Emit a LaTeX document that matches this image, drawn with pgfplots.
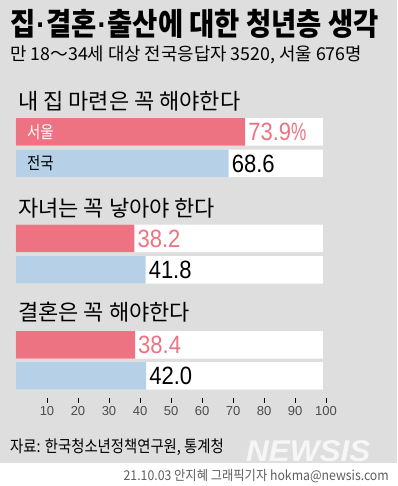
\documentclass[border=0pt]{standalone}
\usepackage{pgfplots}
\pgfplotsset{compat=1.18}
\usepackage{graphicx}
\usepackage{fontspec}
\setmainfont{Liberation Sans}
\newfontfamily\kr{Noto Sans CJK KR}
\newfontfamily\lib{Liberation Sans}
\definecolor{bg}{RGB}{222,222,222}
\definecolor{seoul}{RGB}{238,115,130}
\definecolor{nat}{RGB}{182,209,231}
\definecolor{credit}{RGB}{95,95,95}
\newcommand{\pct}{\scalebox{0.78}[1]{\%}}
\begin{document}
\begin{tikzpicture}[x=1pt,y=1pt]
\fill[bg] (0,23) rectangle (397,486);
\fill[white] (0,0) rectangle (397,23);
\path[use as bounding box] (0,0) rectangle (397,486);
% titles
\node[anchor=west, inner sep=0] at (10,462.5) {\scalebox{0.885}[1]{\kr\bfseries\fontsize{31}{32}\selectfont 집{\lib\bfseries\kern1pt·\kern1pt}결혼{\lib\bfseries\kern1pt·\kern1pt}출산에 대한 청년층 생각}};
\node[anchor=west, inner sep=0] at (10,431) {\kr\fontsize{17.8}{18}\selectfont 만 18{\char"FF5E}34세 대상 전국응답자 3520, 서울 676명};
\node[anchor=west, inner sep=0] at (18,385) {\kr\fontsize{22}{22}\selectfont 내 집 마련은 꼭 해야한다};
\node[anchor=west, inner sep=0] at (18,277.5) {\kr\fontsize{22}{22}\selectfont 자녀는 꼭 낳아야 한다};
\node[anchor=west, inner sep=0] at (18,174) {\kr\fontsize{22}{22}\selectfont 결혼은 꼭 해야한다};
\node[anchor=west, inner sep=0] at (10,39) {\scalebox{0.87}[1]{\kr\fontsize{16.5}{17}\selectfont 자료: 한국청소년정책연구원, 통계청}};
\node[anchor=west, inner sep=0, text=white, opacity=0.75] at (246,35) {\scalebox{1.05}[1]{\fontsize{30}{30}\selectfont\bfseries\itshape NEWSIS}};
\node[anchor=east, inner sep=0, text=credit] at (389,10) {\scalebox{0.91}[1]{\kr\fontsize{13.5}{14}\selectfont 21.10.03 안지혜 그래픽기자 hokma@newsis.com}};
\begin{axis}[
  at={(16pt,486pt)}, anchor=north west,
  scale only axis, width=310pt, height=398pt,
  xmin=0, xmax=100, ymin=-398, ymax=0,
  hide y axis,
  axis x line*=bottom,
  x axis line style={draw=none},
  xtick={10,20,...,100},
  tick align=outside,
  major tick length=5pt,
  x tick style={black, line width=0.5pt},
  xticklabel style={font=\fontsize{13}{13}\selectfont, text=black!70},
  /pgf/number format/assume math mode=true,
  clip=false,
]
\addplot[xbar, bar shift=0pt, bar width=27.5, fill=white, draw=none]
  coordinates {(99,-132) (99,-163.5) (99,-238.5) (99,-270) (99,-345) (99,-376)};
\addplot[xbar, bar shift=0pt, bar width=27.5, fill=seoul, draw=none,
  point meta=explicit symbolic,
  nodes near coords={\scalebox{0.88}[1]{\pgfplotspointmeta}},
  nodes near coords style={anchor=west, xshift=2pt, inner sep=1pt, text=seoul, font=\fontsize{25}{25}\selectfont}]
  coordinates {(73.9,-132) [73.9\pct] (38.2,-238.5) [38.2] (38.4,-345) [38.4]};
\addplot[xbar, bar shift=0pt, bar width=27.5, fill=nat, draw=none,
  point meta=explicit symbolic,
  nodes near coords={\scalebox{0.88}[1]{\pgfplotspointmeta}},
  nodes near coords style={anchor=west, xshift=2pt, inner sep=1pt, text=black, font=\fontsize{25}{25}\selectfont}]
  coordinates {(68.6,-163.5) [68.6] (41.8,-270) [41.8] (42.0,-376) [42.0]};
\node[anchor=west, inner sep=0, text=white] at (axis cs:3.5,-132) {\scalebox{0.85}[1]{\kr\fontsize{17}{17}\selectfont 서울}};
\node[anchor=west, inner sep=0, text=black] at (axis cs:3.5,-163.5) {\scalebox{0.85}[1]{\kr\fontsize{17}{17}\selectfont 전국}};
\end{axis}
\end{tikzpicture}
\end{document}
